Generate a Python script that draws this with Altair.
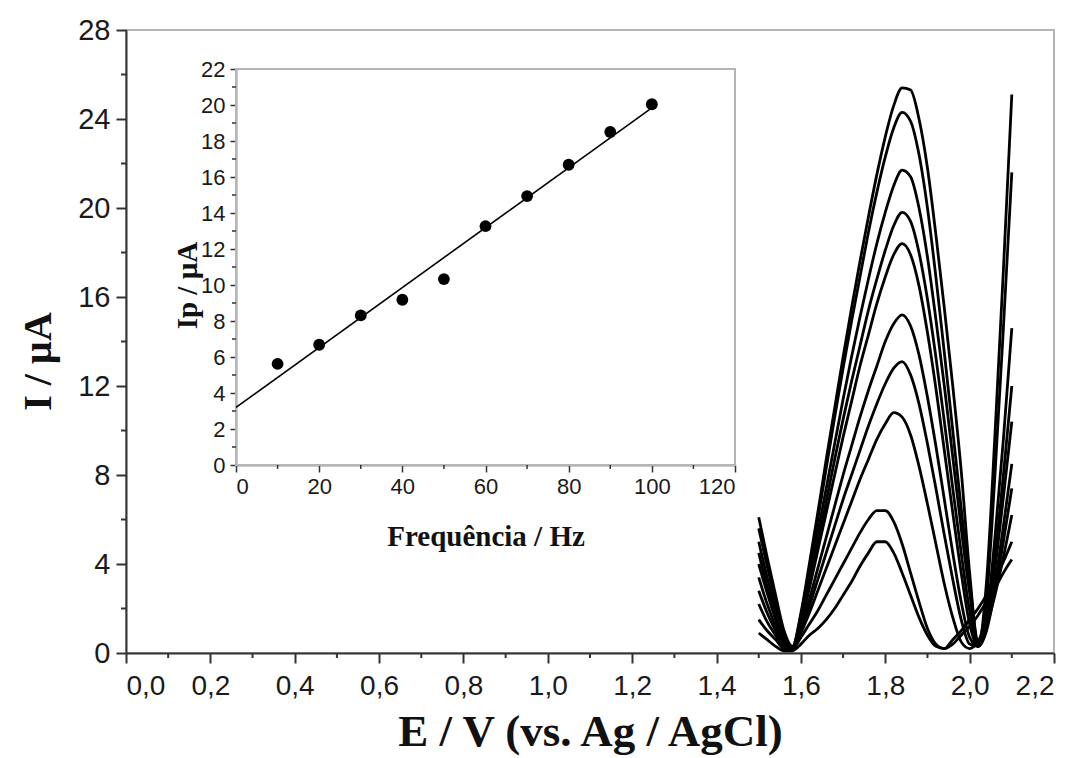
import altair as alt
import pandas as pd

# --- Square-wave voltammograms: potential grid (V) and current (µA) per frequency ---
potential = [1.50, 1.52, 1.54, 1.56, 1.58, 1.60, 1.62, 1.64, 1.66, 1.68, 1.70,
             1.72, 1.74, 1.76, 1.78, 1.80, 1.82, 1.84, 1.86, 1.88, 1.90,
             1.92, 1.94, 1.96, 1.98, 2.00, 2.02, 2.04, 2.06, 2.08, 2.10]

i_100hz = [6.1, 4.3, 2.6, 1.0, 0.3, 1.8, 4.0, 6.3, 8.7, 11.0, 13.3, 15.5, 17.6, 19.6, 21.5, 23.2,
           24.6, 25.4, 25.3, 24.0, 21.8, 18.8, 15.5, 12.0, 8.2, 3.6, 0.4, 3.2, 9.8, 17.2, 25.1]
i_90hz = [5.6, 3.9, 2.3, 0.8, 0.3, 1.7, 3.8, 6.0, 8.3, 10.6, 12.8, 14.9, 16.9, 18.9, 20.7, 22.3,
          23.6, 24.3, 23.9, 22.4, 20.0, 16.9, 13.5, 10.0, 6.5, 3.2, 0.6, 2.4, 8.0, 14.6, 21.6]
i_80hz = [5.0, 3.4, 2.0, 0.7, 0.2, 1.5, 3.4, 5.4, 7.4, 9.4, 11.4, 13.3, 15.1, 16.8, 18.4, 19.8,
          21.0, 21.7, 21.4, 20.0, 17.8, 15.0, 12.0, 8.8, 5.6, 2.7, 0.5, 1.6, 5.2, 9.6, 14.6]
i_70hz = [4.5, 3.0, 1.7, 0.6, 0.2, 1.4, 3.1, 4.9, 6.8, 8.7, 10.5, 12.2, 13.8, 15.4, 16.8, 18.1,
          19.2, 19.8, 19.4, 18.0, 15.9, 13.3, 10.4, 7.4, 4.5, 1.9, 0.4, 1.3, 4.3, 8.0, 12.0]
i_60hz = [4.0, 2.7, 1.5, 0.5, 0.2, 1.3, 2.9, 4.6, 6.3, 8.0, 9.7, 11.3, 12.9, 14.3, 15.7, 16.9,
          17.9, 18.4, 17.9, 16.5, 14.4, 11.9, 9.1, 6.3, 3.6, 1.3, 0.3, 1.2, 3.8, 7.0, 10.4]
i_50hz = [3.4, 2.2, 1.2, 0.4, 0.2, 1.1, 2.4, 3.8, 5.2, 6.6, 8.0, 9.3, 10.6, 11.8, 12.9, 14.0,
          14.8, 15.2, 14.7, 13.4, 11.5, 9.3, 6.9, 4.5, 2.3, 0.7, 0.3, 1.1, 3.1, 5.7, 8.5]
i_40hz = [2.8, 1.8, 1.0, 0.3, 0.2, 1.0, 2.1, 3.3, 4.5, 5.7, 6.9, 8.0, 9.1, 10.2, 11.2, 12.1,
          12.8, 13.1, 12.5, 11.2, 9.4, 7.4, 5.3, 3.3, 1.5, 0.4, 0.3, 1.0, 2.8, 5.0, 7.4]
i_30hz = [2.2, 1.4, 0.8, 0.3, 0.2, 0.9, 1.8, 2.8, 3.8, 4.8, 5.8, 6.8, 7.8, 8.7, 9.6, 10.3,
          10.8, 10.6, 9.8, 8.4, 6.7, 4.9, 3.1, 1.6, 0.5, 0.2, 0.5, 1.2, 2.6, 4.3, 6.2]
i_20hz = [1.5, 1.0, 0.6, 0.2, 0.2, 0.7, 1.3, 1.9, 2.6, 3.3, 4.0, 4.7, 5.4, 6.0, 6.4, 6.4,
          5.9, 4.9, 3.6, 2.3, 1.1, 0.4, 0.2, 0.6, 1.0, 1.5, 2.0, 2.6, 3.3, 4.1, 5.0]
i_10hz = [0.9, 0.6, 0.3, 0.1, 0.1, 0.4, 0.8, 1.1, 1.5, 2.0, 2.6, 3.2, 3.9, 4.5, 5.0, 5.0,
          4.5, 3.6, 2.6, 1.6, 0.8, 0.3, 0.2, 0.4, 0.8, 1.2, 1.7, 2.3, 2.9, 3.6, 4.2]

series = {100: i_100hz, 90: i_90hz, 80: i_80hz, 70: i_70hz, 60: i_60hz,
          50: i_50hz, 40: i_40hz, 30: i_30hz, 20: i_20hz, 10: i_10hz}

# --- Inset: peak current vs. frequency ---
frequency = [10, 20, 30, 40, 50, 60, 70, 80, 90, 100]
peak_current = [5.62, 6.68, 8.31, 9.18, 10.33, 13.27, 14.94, 16.68, 18.50, 20.04]

# tick positions
main_x_ticks = [0.0, 0.2, 0.4, 0.6, 0.8, 1.0, 1.2, 1.4, 1.6, 1.8, 2.0, 2.2]
main_x_minor = [0.1, 0.3, 0.5, 0.7, 0.9, 1.1, 1.3, 1.5, 1.7, 1.9, 2.1]
main_y_ticks = [0, 4, 8, 12, 16, 20, 24, 28]
main_y_minor = [2, 6, 10, 14, 18, 22, 26]
inset_x_ticks = [0, 20, 40, 60, 80, 100, 120]
inset_x_minor = [10, 30, 50, 70, 90, 110]
inset_y_ticks = [0, 2, 4, 6, 8, 10, 12, 14, 16, 18, 20, 22]
inset_y_minor = [1, 3, 5, 7, 9, 11, 13, 15, 17, 19, 21]

rows = []
for f, values in series.items():
    for e, i in zip(potential, values):
        rows.append({"freq": f, "E": e, "I": i})
curves_df = pd.DataFrame(rows)
inset_df = pd.DataFrame({"f": frequency, "ip": peak_current})

W, H = 928, 623
LABEL_FONT = "Liberation Sans"
TITLE_FONT = "Liberation Serif"

x_main = alt.Scale(domain=[0, 2.2], nice=False, zero=False)
y_main = alt.Scale(domain=[0, 28], nice=False, zero=False)

# inset plot box inside the main plot (pixels)
IX0, IX1 = 110, 609
IY0, IY1 = 435, 39
x_in = alt.Scale(domain=[0, 120], nice=False, zero=False, range=[IX0, IX1])
y_in = alt.Scale(domain=[0, 22], nice=False, zero=False, range=[IY0, IY1])

curves = alt.Chart(curves_df).mark_line(
    color="black", strokeWidth=2.8, interpolate="monotone"
).encode(
    x=alt.X("E:Q", scale=x_main, axis=alt.Axis(
        values=main_x_ticks,
        labelExpr="replace(format(datum.value, '.1f'), '.', ',')",
        tickSize=10, tickWidth=2, tickColor="#333", domainWidth=2, domainColor="#333",
        labelFont=LABEL_FONT, labelFontSize=28, labelColor="#1a1a1a", labelPadding=9,
        grid=False, title="E / V (vs. Ag / AgCl)", titleFont=TITLE_FONT,
        titleFontSize=45, titleFontWeight="bold", titleColor="#111",
        titleX=W / 2, titleY=92, titleAlign="center", titleBaseline="alphabetic",
    )),
    y=alt.Y("I:Q", scale=y_main, axis=alt.Axis(
        values=main_y_ticks, format="d",
        tickSize=10, tickWidth=2, tickColor="#333", domainWidth=2, domainColor="#333",
        labelFont=LABEL_FONT, labelFontSize=29, labelColor="#1a1a1a", labelPadding=6,
        grid=False, title="I / µA", titleFont=TITLE_FONT,
        titleFontSize=40, titleFontWeight="bold", titleColor="#111",
        titleX=-76, titleY=331, titleAngle=270, titleAlign="center",
        titleBaseline="alphabetic",
    )),
    detail="freq:N",
)

minor_x = alt.Chart(pd.DataFrame({"v": main_x_minor})).mark_rule(
    color="#333", strokeWidth=2
).encode(x=alt.X("v:Q", scale=x_main, axis=None), y=alt.value(H), y2=alt.value(H + 5))

minor_y = alt.Chart(pd.DataFrame({"v": main_y_minor})).mark_rule(
    color="#333", strokeWidth=2
).encode(y=alt.Y("v:Q", scale=y_main, axis=None), x=alt.value(0), x2=alt.value(-5))

# inset box (grey top/right edges; black axes are drawn over left/bottom)
frame = alt.Chart(inset_df).mark_rect(
    fillOpacity=0, stroke="#b5b5b5", strokeWidth=1.5
).encode(
    x=alt.value(IX0), x2=alt.value(IX1), y=alt.value(IY1), y2=alt.value(IY0),
)

points = alt.Chart(inset_df).mark_circle(size=140, color="black", opacity=1).encode(
    x=alt.X("f:Q", scale=x_in, axis=alt.Axis(
        orient="bottom", offset=-(H - IY0), values=inset_x_ticks, format="d",
        tickSize=7, tickWidth=1.5, tickColor="#333", domainWidth=1.5, domainColor="#333",
        labelFont=LABEL_FONT, labelFontSize=22, labelColor="#1a1a1a", labelPadding=4,
        grid=False, title="Frequência / Hz", titleFont=TITLE_FONT,
        titleFontSize=29, titleFontWeight="bold", titleColor="#111",
        titleX=(IX0 + IX1) / 2, titleY=80, titleAlign="center",
        titleBaseline="alphabetic",
    )),
    y=alt.Y("ip:Q", scale=y_in, axis=alt.Axis(
        orient="left", offset=-IX0, values=inset_y_ticks, format="d",
        tickSize=6, tickWidth=1.5, tickColor="#333", domainWidth=1.5, domainColor="#333",
        labelFont=LABEL_FONT, labelFontSize=22, labelColor="#1a1a1a", labelPadding=5,
        grid=False, title="Ip / µA", titleFont=TITLE_FONT,
        titleFontSize=29, titleFontWeight="bold", titleColor="#111",
        titleX=-40, titleY=255, titleAngle=270, titleAlign="center",
        titleBaseline="alphabetic",
    )),
)

fit = alt.Chart(inset_df).transform_regression(
    "f", "ip", extent=[0, 100]
).mark_line(color="black", strokeWidth=1.6).encode(
    x=alt.X("f:Q", scale=x_in, axis=None),
    y=alt.Y("ip:Q", scale=y_in, axis=None),
)

in_minor_x = alt.Chart(pd.DataFrame({"v": inset_x_minor})).mark_rule(
    color="#333", strokeWidth=1.5
).encode(x=alt.X("v:Q", scale=x_in, axis=None), y=alt.value(IY0), y2=alt.value(IY0 + 4))

in_minor_y = alt.Chart(pd.DataFrame({"v": inset_y_minor})).mark_rule(
    color="#333", strokeWidth=1.5
).encode(y=alt.Y("v:Q", scale=y_in, axis=None), x=alt.value(IX0), x2=alt.value(IX0 - 4))

# every layer carries its own fully specified scales
chart = alt.layer(
    curves, minor_x, minor_y, frame, fit, points, in_minor_x, in_minor_y
).resolve_scale(
    x="independent", y="independent"
).properties(
    width=W, height=H,
    autosize="none",
    padding={"left": 126, "top": 30, "right": 1083 - 126 - W, "bottom": 758 - 30 - H},
    background="white",
).configure_view(
    stroke="#b5b5b5", strokeWidth=2
)

chart.save("out.html", embed_options={"renderer": "svg", "actions": False})
